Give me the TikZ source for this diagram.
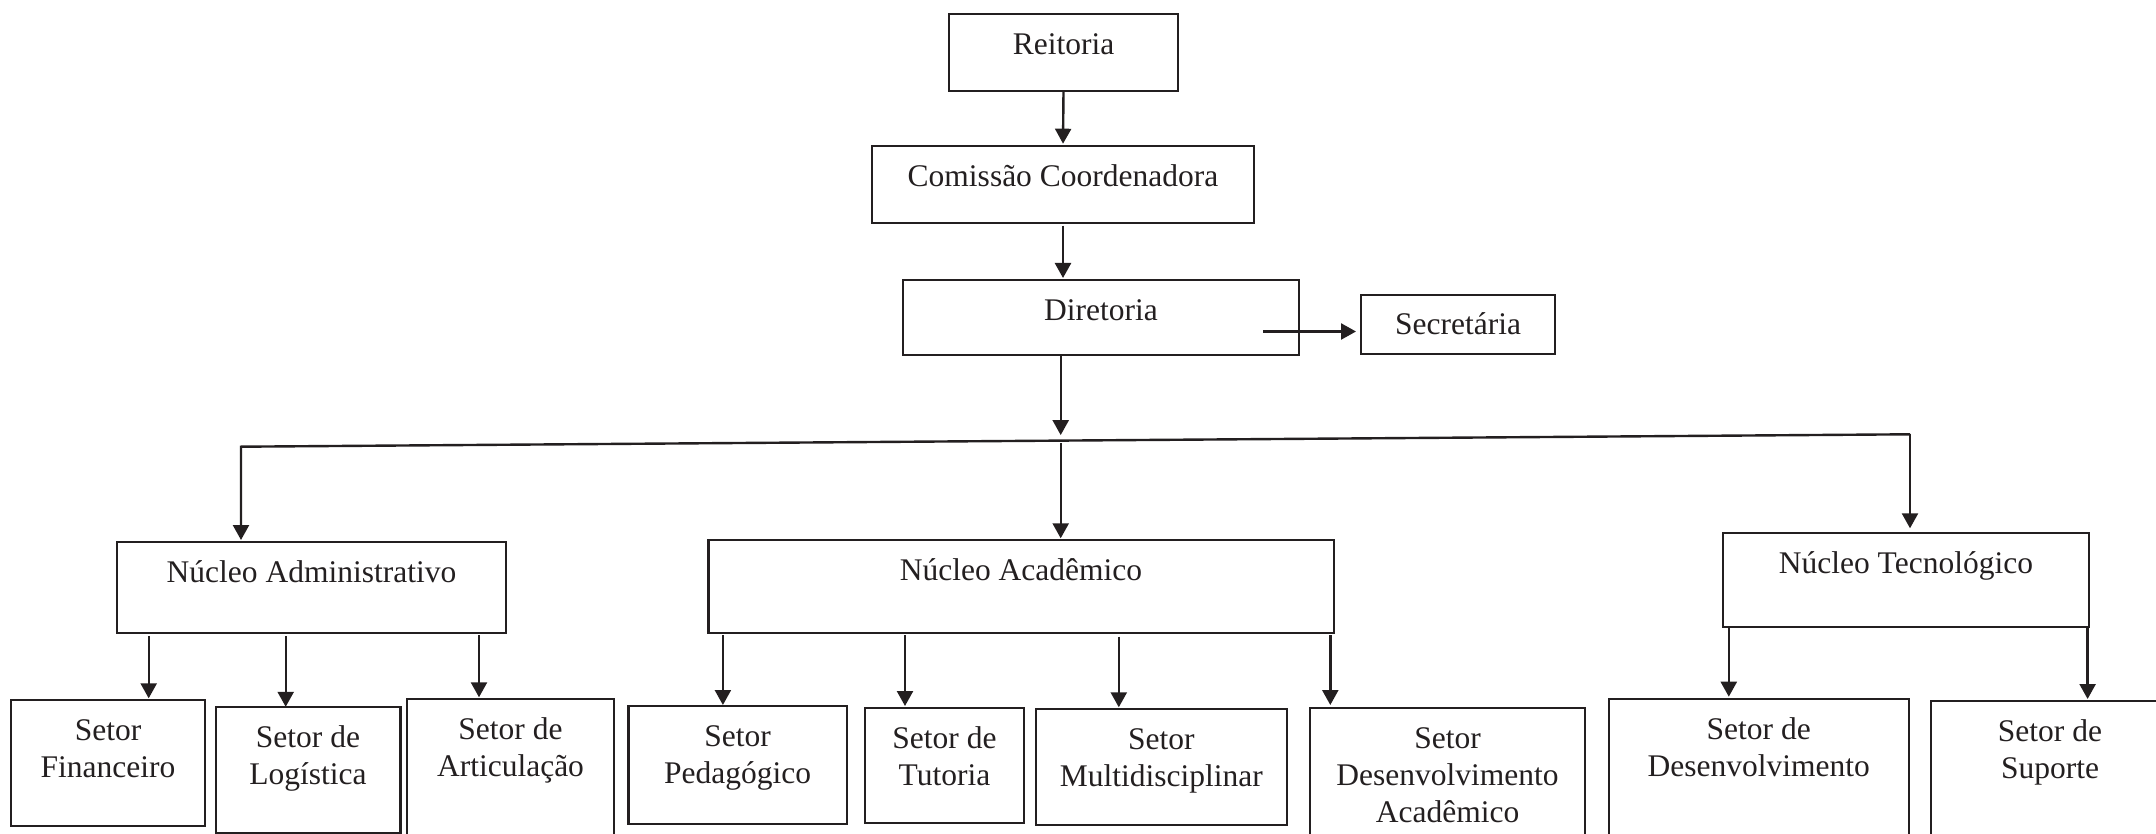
\documentclass[tikz,border=0pt]{standalone}
\usepackage{fontspec}
\setmainfont{Liberation Serif}
\usetikzlibrary{arrows.meta}
\definecolor{ink}{HTML}{231F20}
\newcommand\ffs{\fontsize{31.5}{37}\selectfont}
\newcommand\mybx[3]{\parbox[c][#2][t]{#1}{\centering\rule{0pt}{40.5pt}#3}}
\tikzset{
  bx/.style={draw=ink, line width=2.2pt, inner sep=0pt, outer sep=0pt, anchor=north west, text=ink, font=\ffs},
  ln/.style={draw=ink, line width=2.4pt},
  arr/.style={ln, -{Triangle[length=15pt,width=16pt]}}
}
\begin{document}
\begin{tikzpicture}[x=1pt, y=-1pt]
\useasboundingbox (0,0) rectangle (2156,834);
\clip (0,0) rectangle (2156,834);
% top chain
\node[bx] (rei) at (949,14) {\mybx{229pt}{76.7pt}{Reitoria}};
\node[bx] (com) at (872,145.7) {\mybx{382pt}{77pt}{Comissão Coordenadora}};
\node[bx] (dir) at (903,280) {\mybx{396pt}{75pt}{Diretoria}};
\node[bx] (sec) at (1361,295) {\parbox[c][59pt][t]{194pt}{\centering\rule{0pt}{39.5pt}Secretária}};
% nuclei
\node[bx] (nadm) at (117,541.7) {\mybx{389pt}{91.6pt}{Núcleo Administrativo}};
\node[bx] (nacad) at (708.4,540) {\mybx{625.3pt}{93.3pt}{Núcleo Acadêmico}};
\node[bx] (ntec) at (1723.2,532.7) {\mybx{365.5pt}{94pt}{Núcleo Tecnológico}};
% sectors
\node[bx] (fin) at (11,700) {\mybx{194pt}{126pt}{Setor\\Financeiro}};
\node[bx] (log) at (215.6,707.3) {\mybx{184.8pt}{125.7pt}{Setor de\\Logística}};
\node[bx] (art) at (407,699.3) {\mybx{207pt}{160pt}{Setor de\\Articulação}};
\node[bx] (ped) at (628.5,706) {\mybx{218.2pt}{118pt}{Setor\\Pedagógico}};
\node[bx] (tut) at (865.1,708) {\mybx{158.7pt}{115.3pt}{Setor de\\Tutoria}};
\node[bx] (mul) at (1035.8,708.7) {\mybx{251.2pt}{116pt}{Setor\\Multidisciplinar}};
\node[bx] (dac) at (1310,708) {\mybx{275pt}{160pt}{Setor\\Desenvolvimento\\Acadêmico}};
\node[bx] (dev) at (1608.6,699.3) {\mybx{300.2pt}{160pt}{Setor de\\Desenvolvimento}};
\node[bx] (sup) at (1931,701) {\mybx{238pt}{160pt}{Setor de\\Suporte}};
% junction coordinates
\coordinate (jl) at (241,446.7);
\coordinate (jm) at (1060.7,440.6);
\coordinate (jr) at (1910,434.3);
\coordinate (ds) at (1263,331.5);
% top arrows
\draw[arr, shorten >=2pt] (rei.south) -- (com.north);
\draw[arr, shorten <=3pt, shorten >=2pt] (com.south) -- (com.south |- dir.north);
\draw[arr, shorten <=1pt, shorten >=5.5pt] (jm |- dir.south) -- (jm);
\draw[arr, shorten >=5pt] (ds) -- (ds -| sec.west);
% distribution line
\draw[arr, shorten >=1.7pt] (jr) -- (jl) -- (jl |- nadm.north);
\draw[arr, shorten <=2.7pt, shorten >=1.7pt] (jm) -- (jm |- nacad.north);
\draw[arr, shorten >=4.4pt] (jr) -- (jr |- ntec.north);
% sector arrows
\draw[arr, shorten <=2.5pt, shorten >=1.7pt] (nadm.south -| 148.7,0) -- (fin.north -| 148.7,0);
\draw[arr, shorten <=3pt, shorten >=0.5pt] (nadm.south -| 285.7,0) -- (log.north -| 285.7,0);
\draw[arr, shorten <=2pt, shorten >=2pt] (nadm.south -| 479,0) -- (art.north -| 479,0);
\draw[arr, shorten <=2pt, shorten >=1pt] (nacad.south -| 722.9,0) -- (ped.north -| 722.9,0);
\draw[arr, shorten <=2pt, shorten >=2pt] (nacad.south -| 905,0) -- (tut.north -| 905,0);
\draw[arr, shorten <=3.4pt, shorten >=1.4pt] (nacad.south -| 1118.8,0) -- (mul.north -| 1118.8,0);
\draw[arr, shorten <=2pt, shorten >=3pt] (nacad.south -| 1330.3,0) -- (dac.north -| 1330.3,0);
\draw[arr, shorten <=0.5pt, shorten >=2.6pt] (ntec.south -| 1728.8,0) -- (dev.north -| 1728.8,0);
\draw[arr, shorten <=0.5pt, shorten >=2pt] (ntec.south -| 2087.6,0) -- (sup.north -| 2087.6,0);
\end{tikzpicture}
\end{document}
